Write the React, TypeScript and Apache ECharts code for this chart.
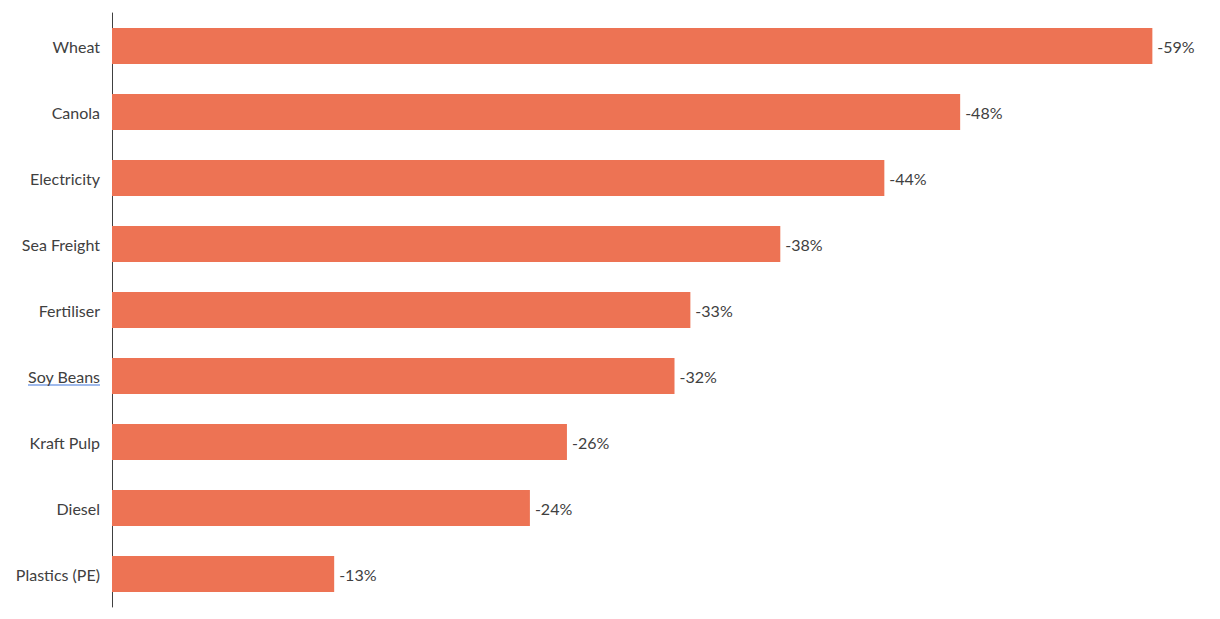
import React, { useEffect, useRef } from "react";
import * as echarts from "echarts";

const categories = [
  "Wheat",
  "Canola",
  "Electricity",
  "Sea Freight",
  "Fertiliser",
  "Soy Beans",
  "Kraft Pulp",
  "Diesel",
  "Plastics (PE)",
];

const changePct = [-59.0, -48.1, -43.8, -37.9, -32.8, -31.9, -25.8, -23.7, -12.6];

export default function App() {
  const ref = useRef<HTMLDivElement>(null);
  useEffect(() => {
    document.body.style.margin = "0";
    const chart = echarts.init(ref.current!, null, { renderer: "svg" });
    const font = "Lato, 'Open Sans', sans-serif";
    chart.setOption({
      animation: false,
      grid: { left: 112, top: 13, width: 1058, height: 594, containLabel: false },
      xAxis: {
        type: "value",
        min: -60,
        max: 0,
        inverse: true,
        show: false,
      },
      yAxis: {
        type: "category",
        data: categories,
        inverse: true,
        axisLine: { show: true, lineStyle: { color: "#404040", width: 1 } },
        axisTick: { show: false },
        axisLabel: {
          margin: 12,
          fontSize: 16,
          color: "#404040",
          fontFamily: font,
        },
        splitLine: { show: false },
      },
      series: [
        {
          type: "bar",
          data: changePct,
          barWidth: 36,
          itemStyle: { color: "#ED7354" },
          label: {
            show: true,
            position: "right",
            distance: 5,
            fontSize: 16,
            color: "#404040",
            fontFamily: font,
            formatter: (p: any) => Math.round(p.value) + "%",
          },
        },
      ],
      graphic: [
        {
          type: "line",
          shape: { x1: 28, y1: 385, x2: 100, y2: 385 },
          style: { stroke: "#7FA3E6", lineWidth: 1.5 },
          silent: true,
        },
      ],
    });
    return () => chart.dispose();
  }, []);
  return (
    <div
      ref={ref}
      style={{ position: "absolute", left: 0, top: 0, width: 1220, height: 619, background: "#fff" }}
    />
  );
}
